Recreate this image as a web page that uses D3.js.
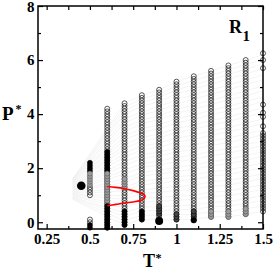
<!DOCTYPE html>
<html>
<head>
<meta charset="utf-8">
<script src="https://cdnjs.cloudflare.com/ajax/libs/d3/7.8.5/d3.min.js"></script>
<style>
  body { margin: 0; background: #fff; }
  svg { display: block; }
  text { font-family: "Liberation Serif", "Times New Roman", serif; font-weight: bold; }
</style>
</head>
<body>
<script>
// pressure grid of the simulated state points
const pLevels = [-0.2, -0.1, 0.0, 0.1, 0.2, 0.3, 0.4, 0.5, 0.6, 0.7, 0.8, 0.9,
  1.0, 1.1, 1.2, 1.3, 1.4, 1.5, 1.6, 1.7, 1.8, 1.9, 2.0, 2.1, 2.2, 2.3, 2.4,
  2.5, 2.6, 2.7, 2.8, 2.9, 3.0, 3.1, 3.2, 3.3, 3.4, 3.5, 3.6, 3.7, 3.8, 3.9,
  4.0, 4.1, 4.2, 4.3, 4.4, 4.5, 4.6, 4.7, 4.8, 4.9, 5.0, 5.1, 5.2, 5.3, 5.4,
  5.5, 5.6, 5.7, 5.8, 5.9, 6.0, 6.1, 6.2];

// isotherms: temperature, lowest and highest pressure simulated
const colT  = [0.6, 0.7, 0.8, 0.9, 1.0, 1.1, 1.2, 1.3, 1.4, 1.5];
const colLo = [-0.2, -0.1, 0.1, 0.1, 0.1, 0.1, 0.2, 0.2, 0.3, 0.4];
const colHi = [4.2, 4.4, 4.7, 4.9, 5.2, 5.4, 5.6, 5.8, 6.0, 3.3];

// extra isolated points
const extraT = [1.5, 1.5, 1.5, 1.5, 1.5, 1.5, 1.5, 0.5, 0.5, 0.5, 0.5, 0.5, 0.5];
const extraP = [3.55, 3.9, 4.05, 4.35, 5.7, 6.0, 6.25, 1.0, 1.1, 1.2, 1.3, 0.0, 0.1];

// filled stretches along isotherms: T, from P, to P, kind
const segT    = [0.5, 0.5, 0.5, 0.6, 0.6, 0.6, 0.7, 0.7, 0.8, 0.9, 1.0, 1.1, 1.2, 1.3, 1.4];
const segLo   = [1.9, 1.4, -0.2, 1.9, 0.7, -0.2, 1.3, -0.1, 0.1, 0.3, 0.1, 0.2, 0.2, 0.2, 0.3];
const segHi   = [2.2, 1.8, -0.1, 2.6, 1.8, 0.6, 1.6, 0.4, 0.4, 0.6, 0.3, 0.4, 0.4, 0.4, 0.5];
const segKind = ["solid", "grey", "solid", "solid", "grey", "solid", "grey", "solid",
  "solid", "dark", "dark", "dark", "grey", "grey", "grey"];

// big filled symbols
const bigT = [0.45, 0.9, 1.1];
const bigP = [1.35, 0.05, 0.07];
const bigR = [4.3, 4, 3];

// red boundary
const redT = [0.6, 0.65, 0.7, 0.75, 0.79, 0.815, 0.818, 0.81, 0.79, 0.75, 0.7, 0.65, 0.6];
const redP = [1.32, 1.29, 1.24, 1.17, 1.09, 1.01, 0.95, 0.86, 0.8, 0.75, 0.71, 0.66, 0.61];

// guide lines share of each isotherm span
const fanFrac = [0, 0.035, 0.07, 0.1, 0.14, 0.17, 0.21, 0.24, 0.28, 0.31, 0.35, 0.38,
  0.42, 0.45, 0.49, 0.52, 0.56, 0.59, 0.63, 0.66, 0.7, 0.73, 0.77, 0.8, 0.84, 0.87,
  0.91, 0.94, 0.97, 1];
const fanStart = { T: 0.4, lo: 0.85, hi: 1.6 };

const xMajor = [0.25, 0.5, 0.75, 1, 1.25, 1.5];
const xMinor = [0.375, 0.625, 0.875, 1.125, 1.375];
const yMajor = [0, 2, 4, 6, 8];
const yMinor = [1, 3, 5, 7];

const W = 273, H = 270;
const margin = { top: 6, right: 10, bottom: 41, left: 38 };

const x = d3.scaleLinear().domain([0.2, 1.5]).range([margin.left, W - margin.right]);
const y = d3.scaleLinear().domain([-0.25, 8]).range([H - margin.bottom, margin.top]);

const svg = d3.select('body').append('svg')
  .attr('width', W)
  .attr('height', H);

// guide lines
const fanCols = colT.map((t, i) => ({ T: t, lo: colLo[i], hi: i === colT.length - 1 ? 6.2 : colHi[i] }))
  .filter(c => c.T >= 0.7);
const fanLine = d3.line().x(d => x(d[0])).y(d => y(d[1]));
const gFan = svg.append('g');
fanFrac.forEach((f) => {
  const pts = [[fanStart.T, fanStart.lo + f * (fanStart.hi - fanStart.lo)]]
    .concat(fanCols.map(c => [c.T, c.lo + f * (c.hi - c.lo)]));
  gFan.append('path')
    .attr('d', fanLine(pts))
    .attr('fill', 'none')
    .attr('stroke', '#e2e2e2')
    .attr('stroke-width', 0.4);
});

// open circles
const openPts = [];
colT.forEach((t, i) => {
  pLevels.filter(p => p >= colLo[i] - 1e-9 && p <= colHi[i] + 1e-9)
    .forEach(p => openPts.push([t, p]));
});
extraT.forEach((t, i) => openPts.push([t, extraP[i]]));

svg.append('g').selectAll('circle')
  .data(openPts)
  .join('circle')
  .attr('cx', d => x(d[0]))
  .attr('cy', d => y(d[1]))
  .attr('r', 2.5)
  .attr('fill', 'none')
  .attr('stroke', '#111')
  .attr('stroke-width', 0.7);

// filled stretches
const fillPts = [];
segT.forEach((t, i) => {
  pLevels.filter(p => p >= segLo[i] - 1e-9 && p <= segHi[i] + 1e-9)
    .forEach(p => fillPts.push({ T: t, P: p, kind: segKind[i] }));
});
const fillCol = { solid: '#000', dark: '#444', grey: '#9a9a9a' };
svg.append('g').selectAll('circle')
  .data(fillPts)
  .join('circle')
  .attr('cx', d => x(d.T))
  .attr('cy', d => y(d.P))
  .attr('r', 2.5)
  .attr('fill', d => fillCol[d.kind])
  .attr('stroke', d => (d.kind === 'grey' ? '#555' : '#000'))
  .attr('stroke-width', 0.6);

// big symbols
svg.append('g').selectAll('circle')
  .data(bigT.map((t, i) => ({ T: t, P: bigP[i], r: bigR[i] })))
  .join('circle')
  .attr('cx', d => x(d.T))
  .attr('cy', d => y(d.P))
  .attr('r', d => d.r)
  .attr('fill', '#000');

// red curve
svg.append('path')
  .datum(redT.map((t, i) => [t, redP[i]]))
  .attr('d', d3.line().x(d => x(d[0])).y(d => y(d[1])).curve(d3.curveCatmullRom))
  .attr('fill', 'none')
  .attr('stroke', '#f00')
  .attr('stroke-width', 1.6);

// axes
const x0 = margin.left, x1 = W - margin.right, y0 = H - margin.bottom, y1 = margin.top;
function styleAxis(g) {
  g.select('.domain').remove();
  g.selectAll('line').attr('stroke', '#000').attr('stroke-width', 1.2);
  g.selectAll('text').style('font-size', '15px').attr('fill', '#000');
}

svg.append('g').attr('transform', `translate(0,${y0})`)
  .call(d3.axisBottom(x).tickValues(xMajor).tickSize(-5).tickPadding(4.5).tickFormat(d3.format('')))
  .call(styleAxis);
svg.append('g').attr('transform', `translate(0,${y0})`)
  .call(d3.axisBottom(x).tickValues(xMinor).tickSize(-3).tickFormat(''))
  .call(styleAxis);
svg.append('g').attr('transform', `translate(0,${y1})`)
  .call(d3.axisTop(x).tickValues(xMajor.concat(xMinor)).tickSize(-4).tickFormat(''))
  .call(styleAxis);

svg.append('g').attr('transform', `translate(${x0},0)`)
  .call(d3.axisLeft(y).tickValues(yMajor).tickSize(-5).tickPadding(3.5))
  .call(styleAxis)
  .selectAll('text').attr('dy', (d) => (d === 8 ? '0.36em' : '0.32em'));
svg.append('g').attr('transform', `translate(${x0},0)`)
  .call(d3.axisLeft(y).tickValues(yMinor).tickSize(-3).tickFormat(''))
  .call(styleAxis);
svg.append('g').attr('transform', `translate(${x1},0)`)
  .call(d3.axisRight(y).tickValues(yMajor).tickSize(-5).tickFormat(''))
  .call(styleAxis);
svg.append('g').attr('transform', `translate(${x1},0)`)
  .call(d3.axisRight(y).tickValues(yMinor).tickSize(-3).tickFormat(''))
  .call(styleAxis);

// frame
svg.append('rect')
  .attr('x', x0).attr('y', y1)
  .attr('width', x1 - x0).attr('height', y0 - y1)
  .attr('fill', 'none')
  .attr('stroke', '#000')
  .attr('stroke-width', 1.5);

// titles
svg.append('text').attr('x', 2).attr('y', 120).style('font-size', '19px').text('P');
svg.append('text').attr('x', 15.5).attr('y', 113).style('font-size', '12px').text('*');

svg.append('text').attr('x', 149).attr('y', 266.5).attr('text-anchor', 'middle')
  .style('font-size', '18px').text('T');
svg.append('text').attr('x', 155.5).attr('y', 261.5).style('font-size', '12px').text('*');

svg.append('text').attr('x', 229).attr('y', 33.3).style('font-size', '18px').text('R');
svg.append('text').attr('x', 242.5).attr('y', 40.5).style('font-size', '15px').text('1');
</script>
</body>
</html>
